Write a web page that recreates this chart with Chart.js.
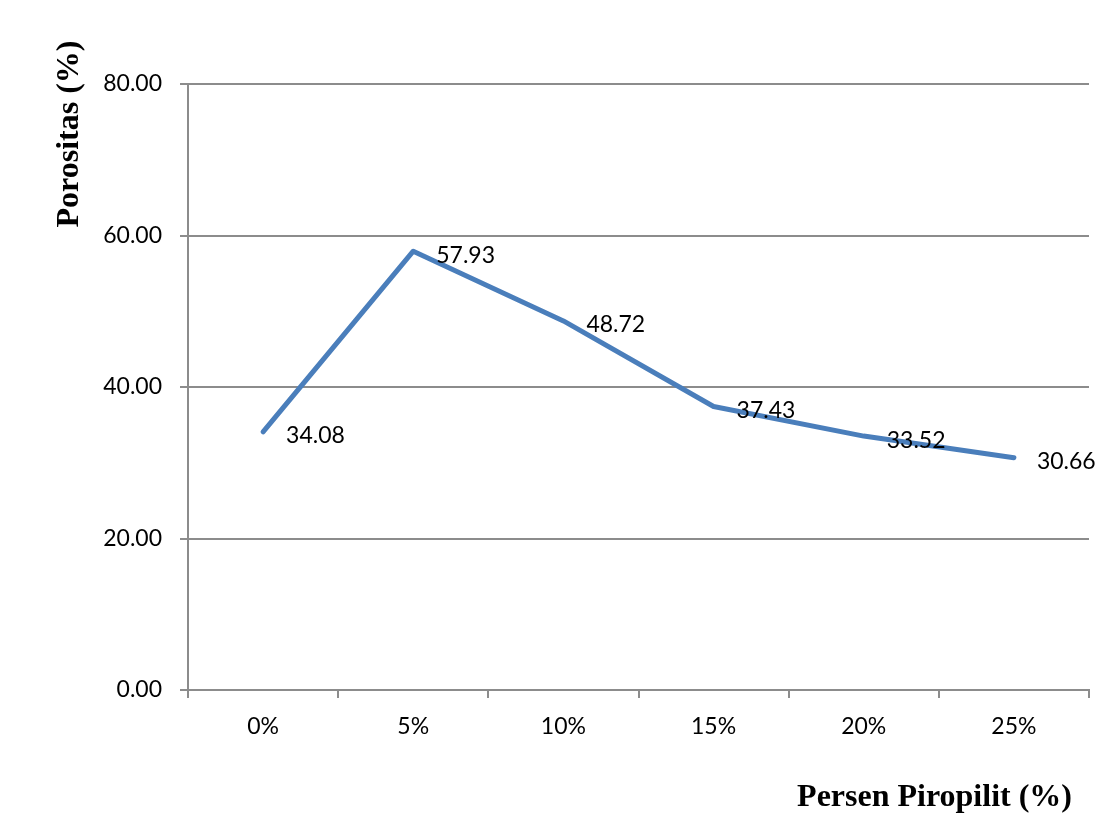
<!DOCTYPE html>
<html>
<head>
<meta charset="utf-8">
<script src="https://cdn.jsdelivr.net/npm/chart.js@4.4.1/dist/chart.umd.min.js"></script>
<style>
  html, body { margin: 0; padding: 0; background: #ffffff; }
  #wrap { width: 1102px; height: 837px; position: relative; }
</style>
</head>
<body>
<div id="wrap"><canvas id="c" width="1102" height="837"></canvas></div>
<script>
// Porosity by pyrophyllite content
const categories = ['0%', '5%', '10%', '15%', '20%', '25%'];
const porositas = [34.08, 57.93, 48.72, 37.43, 33.52, 30.66];
const yTicks = [0, 20, 40, 60, 80];
const xTitle = 'Persen Piropilit (%)';
const yTitle = 'Porositas (%)';

const TICK_FONT = '"Lato", "Open Sans", sans-serif';
const TITLE_FONT = '"Liberation Serif", "Times New Roman", serif';
const AXIS_GRAY = '#8c8c8c';

// Value labels beside each point, plus the two axis titles
const annotate = {
  id: 'annotate',
  afterDatasetsDraw(chart) {
    const ctx = chart.ctx;
    const meta = chart.getDatasetMeta(0);
    ctx.save();
    ctx.fillStyle = '#000000';
    ctx.font = '23px ' + TICK_FONT;
    ctx.textAlign = 'left';
    ctx.textBaseline = 'middle';
    meta.data.forEach((pt, i) => {
      ctx.fillText(porositas[i].toFixed(2), pt.x + 23, pt.y + 4);
    });
    ctx.restore();
  },
  afterDraw(chart) {
    const ctx = chart.ctx;
    const area = chart.chartArea;
    ctx.save();
    ctx.fillStyle = '#000000';
    ctx.font = 'bold 32px ' + TITLE_FONT;
    ctx.textAlign = 'right';
    ctx.textBaseline = 'middle';
    ctx.fillText(xTitle, area.right - 17, area.bottom + 108);
    ctx.translate(area.left - 118, area.top + 50);
    ctx.rotate(-Math.PI / 2);
    ctx.textAlign = 'center';
    ctx.fillText(yTitle, 0, 0);
    ctx.restore();
  }
};

new Chart(document.getElementById('c'), {
  type: 'line',
  data: {
    labels: categories,
    datasets: [{
      data: porositas,
      borderColor: '#4a7ebb',
      borderWidth: 5,
      pointRadius: 0,
      pointHoverRadius: 0,
      tension: 0,
      fill: false,
      borderCapStyle: 'round',
      borderJoinStyle: 'round'
    }]
  },
  options: {
    responsive: false,
    animation: false,
    events: [],
    layout: { padding: { left: 0, right: 13, top: 84, bottom: 0 } },
    plugins: { legend: { display: false }, tooltip: { enabled: false } },
    scales: {
      x: {
        type: 'category',
        offset: true,
        grid: {
          offset: true,
          drawOnChartArea: false,
          drawTicks: true,
          tickLength: 8,
          color: AXIS_GRAY,
          lineWidth: 2
        },
        border: { color: AXIS_GRAY, width: 2 },
        ticks: {
          color: '#000000',
          font: { family: TICK_FONT, size: 23 },
          padding: 15,
          maxRotation: 0
        },
        afterFit(scale) { scale.height = 147; }
      },
      y: {
        min: 0,
        max: 80,
        afterBuildTicks(scale) { scale.ticks = yTicks.map(v => ({ value: v })); },
        grid: {
          color: AXIS_GRAY,
          lineWidth: 2,
          drawTicks: true,
          tickLength: 8
        },
        border: { color: AXIS_GRAY, width: 2 },
        ticks: {
          color: '#000000',
          font: { family: TICK_FONT, size: 23 },
          padding: 18,
          callback: v => Number(v).toFixed(2)
        },
        afterFit(scale) { scale.width = 188; }
      }
    }
  },
  plugins: [annotate]
});
</script>
</body>
</html>
